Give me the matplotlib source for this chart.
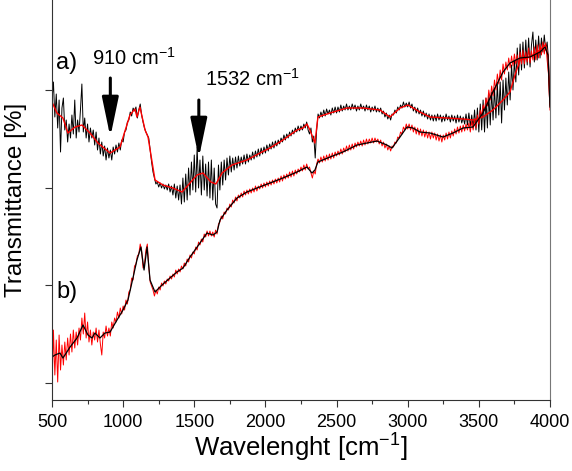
import numpy as np
import matplotlib
matplotlib.use("Agg")
import matplotlib.pyplot as plt
from matplotlib.ticker import MultipleLocator

plt.rcParams['font.family'] = ['Liberation Sans', 'DejaVu Sans']
plt.rcParams['mathtext.fontset'] = 'custom'
plt.rcParams['mathtext.rm'] = 'Liberation Sans'
plt.rcParams['mathtext.it'] = 'Liberation Sans:italic'

# smoothed traces (wavenumber, arbitrary transmittance units)
wn_a_smooth = [500, 535, 577, 612, 662, 711, 767, 823, 908, 978, 1048, 1083, 1097, 1118,
               1154, 1175, 1224, 1280, 1350, 1414, 1470, 1519, 1561, 1617, 1652, 1695,
               1765, 1870, 1962, 2032, 2123, 2222, 2264, 2292, 2313, 2334, 2348, 2369,
               2454, 2573, 2686, 2805, 2875, 2946, 3002, 3086, 3157, 3276, 3389, 3459,
               3529, 3599, 3670, 3719, 3754, 3789, 3859, 3930, 3965, 3986, 4000]
t_a_smooth = [298, 287, 282, 267, 273, 275, 267, 257, 247, 253, 285, 291, 283, 293,
              270, 263, 220, 215, 212, 208, 217, 225, 227, 218, 216, 227,
              235, 240, 247, 252, 260, 270, 272, 276, 270, 262, 257, 283,
              287, 292, 292, 290, 283, 292, 295, 288, 283, 282, 281, 280,
              283, 290, 300, 308, 325, 340, 343, 350, 355, 345, 295]

wn_b_smooth = [500, 521, 556, 577, 627, 676, 718, 753, 781, 802, 837, 872, 908, 957, 999,
               1034, 1069, 1097, 1125, 1147, 1168, 1189, 1224, 1273, 1329, 1378, 1421,
               1470, 1540, 1589, 1632, 1660, 1681, 1730, 1800, 1870, 1941, 2032, 2123,
               2222, 2292, 2327, 2348, 2369, 2454, 2545, 2644, 2714, 2784, 2854, 2890,
               2946, 2995, 3037, 3086, 3157, 3248, 3318, 3389, 3459, 3529, 3599, 3670,
               3719, 3789, 3859, 3930, 3965, 3986, 4000]
t_b_smooth = [43, 45, 47, 42, 53, 62, 75, 65, 62, 67, 62, 67, 68, 80, 90,
              100, 122, 140, 153, 130, 153, 120, 108, 115, 122, 128, 132,
              143, 157, 167, 165, 168, 180, 190, 202, 208, 212, 217, 222,
              228, 233, 227, 230, 238, 243, 248, 255, 257, 259, 255, 252,
              263, 273, 272, 268, 267, 263, 267, 272, 273, 287, 308, 328,
              337, 342, 343, 348, 353, 345, 293]

# raw (noisy) traces, one value every 10 cm-1 from 500 to 4000
wn_raw = np.arange(500, 4001, 10)
t_a_raw = [
    300, 318, 283, 306, 272, 300, 248, 292, 302, 270,
    280, 258, 276, 262, 285, 266, 300, 262, 280, 268,
    290, 316, 268, 282, 262, 276, 258, 272, 262, 270,
    255, 268, 250, 262, 246, 258, 244, 254, 240, 252,
    242, 250, 240, 253, 246, 255, 248, 257, 250, 260,
    258, 268, 270, 278, 280, 288, 284, 292, 289, 293,
    282, 290, 296, 285, 278, 272, 268, 265, 262, 250,
    238, 228, 222, 216, 218, 213, 217, 212, 216, 211,
    215, 210, 216, 208, 214, 205, 216, 202, 214, 200,
    215, 196, 222, 198, 226, 200, 232, 205, 238, 210,
    245, 208, 253, 212, 240, 205, 244, 210, 236, 204,
    238, 202, 240, 200, 232, 196, 192, 235, 210, 238,
    215, 240, 220, 242, 225, 244, 228, 242, 230, 243,
    232, 244, 234, 243, 236, 245, 236, 246, 238, 245,
    240, 248, 241, 249, 243, 251, 244, 252, 246, 253,
    247, 255, 249, 256, 251, 258, 252, 259, 254, 260,
    256, 262, 258, 265, 260, 266, 262, 268, 264, 270,
    266, 272, 268, 274, 269, 274, 270, 276, 272, 278,
    270, 266, 272, 258, 264, 242, 270, 286, 282, 288,
    283, 290, 284, 291, 286, 290, 285, 292, 287, 293,
    287, 293, 288, 295, 289, 294, 290, 296, 290, 294,
    290, 296, 291, 295, 289, 294, 290, 296, 291, 294,
    289, 295, 290, 294, 288, 293, 289, 294, 288, 292,
    288, 292, 286, 289, 283, 287, 281, 285, 280, 286,
    285, 290, 287, 293, 290, 295, 292, 298, 293, 297,
    293, 298, 292, 296, 289, 293, 287, 292, 286, 290,
    284, 289, 283, 287, 281, 286, 280, 285, 279, 285,
    279, 286, 280, 285, 278, 284, 279, 286, 280, 284,
    278, 285, 279, 284, 277, 285, 278, 284, 277, 283,
    276, 286, 275, 287, 274, 285, 272, 290, 270, 292,
    268, 296, 270, 300, 268, 302, 272, 306, 275, 308,
    280, 312, 282, 316, 285, 318, 277, 320, 290, 322,
    295, 328, 300, 335, 310, 340, 318, 352, 325, 356,
    330, 358, 332, 360, 335, 362, 333, 355, 368, 338,
    360, 340, 364, 342, 362, 348, 365, 350, 358, 340,
    300]
t_b_raw = [
    8, 70, 25, 60, 18, 65, 30, 55, 35, 58,
    40, 62, 45, 66, 48, 70, 52, 68, 55, 72,
    60, 82, 66, 87, 62, 78, 58, 70, 55, 68,
    60, 72, 58, 70, 56, 45, 68, 62, 74, 64,
    72, 64, 78, 72, 82, 78, 88, 82, 92, 86,
    94, 90, 100, 96, 108, 110, 122, 120, 134, 136,
    144, 146, 156, 150, 132, 136, 150, 156, 134, 118,
    114, 110, 104, 110, 106, 113, 110, 117, 114, 119,
    116, 121, 119, 124, 121, 126, 123, 130, 126, 131,
    128, 134, 131, 137, 134, 141, 138, 145, 142, 148,
    146, 153, 150, 158, 155, 161, 158, 166, 163, 169,
    164, 169, 164, 168, 163, 170, 166, 176, 178, 184,
    181, 188, 186, 192, 190, 196, 193, 200, 197, 203,
    199, 205, 202, 207, 203, 209, 205, 210, 206, 211,
    207, 212, 208, 214, 209, 214, 211, 216, 212, 217,
    213, 218, 214, 219, 215, 220, 216, 221, 217, 222,
    218, 224, 219, 225, 221, 226, 222, 228, 223, 229,
    224, 230, 226, 231, 228, 233, 229, 235, 230, 236,
    231, 233, 227, 222, 229, 226, 236, 241, 237, 243,
    238, 244, 239, 245, 240, 246, 241, 247, 242, 248,
    244, 249, 245, 251, 246, 252, 248, 254, 249, 255,
    250, 256, 251, 257, 253, 258, 254, 259, 254, 260,
    255, 261, 256, 261, 257, 262, 257, 262, 258, 261,
    256, 260, 254, 258, 252, 256, 250, 254, 249, 254,
    253, 258, 257, 263, 262, 268, 266, 273, 270, 276,
    271, 276, 270, 275, 268, 273, 266, 272, 265, 271,
    264, 270, 263, 269, 262, 268, 261, 268, 262, 267,
    260, 266, 259, 265, 258, 265, 260, 267, 261, 268,
    262, 269, 264, 271, 266, 273, 267, 274, 268, 275,
    269, 276, 270, 277, 268, 279, 270, 281, 272, 285,
    276, 290, 284, 295, 290, 302, 294, 310, 300, 314,
    304, 320, 310, 326, 316, 330, 320, 336, 326, 338,
    330, 342, 332, 344, 334, 346, 336, 345, 334, 348,
    336, 350, 336, 348, 338, 352, 337, 349, 340, 353,
    340, 355, 342, 356, 345, 358, 346, 357, 340, 325,
    290]

fig = plt.figure(figsize=(5.72, 4.71), dpi=100)
ax = fig.add_axes([0.0909, 0.1507, 0.8706, 0.8493])

# spectrum a): black raw, red smoothed on top
ax.plot(wn_raw, t_a_raw, color='black', lw=0.7)
ax.plot(wn_a_smooth, t_a_smooth, color='red', lw=1.0)
# spectrum b): red raw, black smoothed on top
ax.plot(wn_raw, t_b_raw, color='red', lw=0.7)
ax.plot(wn_b_smooth, t_b_smooth, color='black', lw=0.9)

ax.set_xlim(500, 4000)
ax.set_ylim(0, 400)
ax.xaxis.set_major_locator(MultipleLocator(500))
ax.xaxis.set_minor_locator(MultipleLocator(250))
ax.set_yticks([17, 115, 212, 310])
ax.set_yticklabels([])
ax.tick_params(axis='both', which='major', direction='out', length=5, width=0.8,
               labelsize=13, pad=5, colors='#333333', labelcolor='black')
ax.tick_params(axis='x', which='minor', direction='out', length=3, width=0.8, colors='#333333')
ax.spines['top'].set_visible(False)
for s in ['left', 'bottom']:
    ax.spines[s].set_color('#333333')
ax.spines['right'].set_color('#777777')

ax.set_xlabel('Wavelenght [cm$^{\\mathregular{-1}}$]', fontsize=18.5, labelpad=1)
ax.set_ylabel('Transmittance [%]', fontsize=17.5, labelpad=8)

ax.text(530, 337, 'a)', fontsize=17, va='center', ha='left')
ax.text(530, 108, 'b)', fontsize=17, va='center', ha='left')
ax.text(1076, 342, '910 cm$^{\\mathregular{-1}}$', fontsize=14.5, va='center', ha='center')
ax.text(1906, 321, '1532 cm$^{\\mathregular{-1}}$', fontsize=14.5, va='center', ha='center')

arrow_kw = dict(arrowstyle='-|>,head_length=2.4,head_width=0.5', lw=2.2, color='black',
                shrinkA=0, shrinkB=0, mutation_scale=10)
ax.annotate('', xy=(910, 263), xytext=(910, 322), arrowprops=arrow_kw)
ax.annotate('', xy=(1532, 242), xytext=(1532, 300), arrowprops=arrow_kw)

fig.savefig('out.png', dpi=100)
